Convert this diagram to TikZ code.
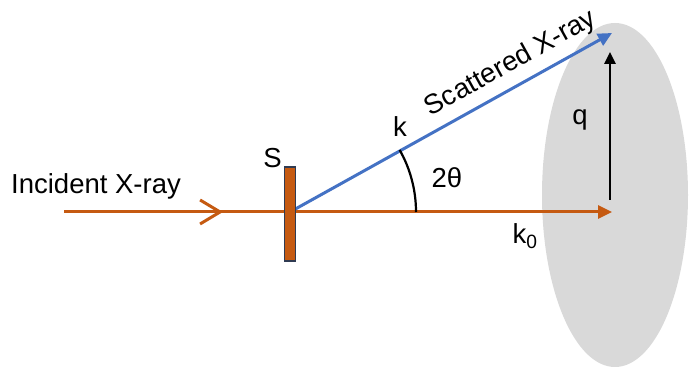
\documentclass[tikz,border=0pt]{standalone}
\usepackage{fontspec}
\setmainfont{Liberation Sans}
\usetikzlibrary{arrows.meta,positioning,shapes.geometric}
\definecolor{beam}{HTML}{C55A11}
\definecolor{scat}{HTML}{4472C4}
\definecolor{screengray}{HTML}{D9D9D9}
\definecolor{edgeblue}{HTML}{2F3B52}

\begin{document}
\begin{tikzpicture}[
        x=1pt,y=1pt,
        font=\fontsize{27.5}{32}\selectfont,
        lbl/.style={inner sep=1pt},
        beam/.style={draw=beam,line width=3pt},
        beamarrow/.style={beam,-{Triangle[length=14pt,width=13pt]}},
        scatarrow/.style={draw=scat,line width=3pt,-{Triangle[length=14pt,width=13pt]}},
        qarrow/.style={draw=black,line width=2.5pt,-{Triangle[length=12pt,width=11pt]}},
        sample/.style={draw=edgeblue,fill=beam,line width=1.2pt,minimum width=11pt,minimum height=94pt,inner sep=0pt}
    ]
        \useasboundingbox (0,0) rectangle (689,369);

        % detector screen
        \node[ellipse,fill=screengray,minimum width=146pt,minimum height=344pt,inner sep=0pt] (screen) at (615,174) {};

        \coordinate (src) at (290,157);
        \coordinate (start) at (64,157);
        \coordinate (chev) at (223,157);
        \coordinate (det) at (612,157);
        \coordinate (hit) at (612,336);
        \coordinate (qtop) at (610,317);
        \coordinate (qbot) at (610,169);

        % incident beam
        \draw[beam] (start) -- (src);
        \draw[beam,-{Straight Barb[length=20pt,width=24pt,line width=3pt]}] (start) -- (chev);

        % transmitted and scattered beams
        \draw[beamarrow] (src) -- node[lbl,pos=0.73,below=9pt] {k\textsubscript{0}} (det);
        \draw[scatarrow] (src) -- node[lbl,sloped,above=7pt,pos=0.72] {Scattered X-ray} (hit);
        \draw[qarrow] (qbot) -- (qtop);

        % scattering angle
        \draw[line width=2.2pt] ([xshift=126pt]src) arc[start angle=0,end angle=29.5,radius=126pt];

        \node[sample] (S) at (290,155) {};

        \node[lbl] (inc) at (96,183) {Incident X-ray};
        \node[lbl,above left=-3pt and 1pt of S.north west] (slabel) {S};
        \node[lbl] (klabel) at (400,242) {k};
        \node[lbl] (angle) at (447,191) {2θ};
        \node[lbl] (qlabel) at (580,249) {q};
    \end{tikzpicture}
\end{document}
